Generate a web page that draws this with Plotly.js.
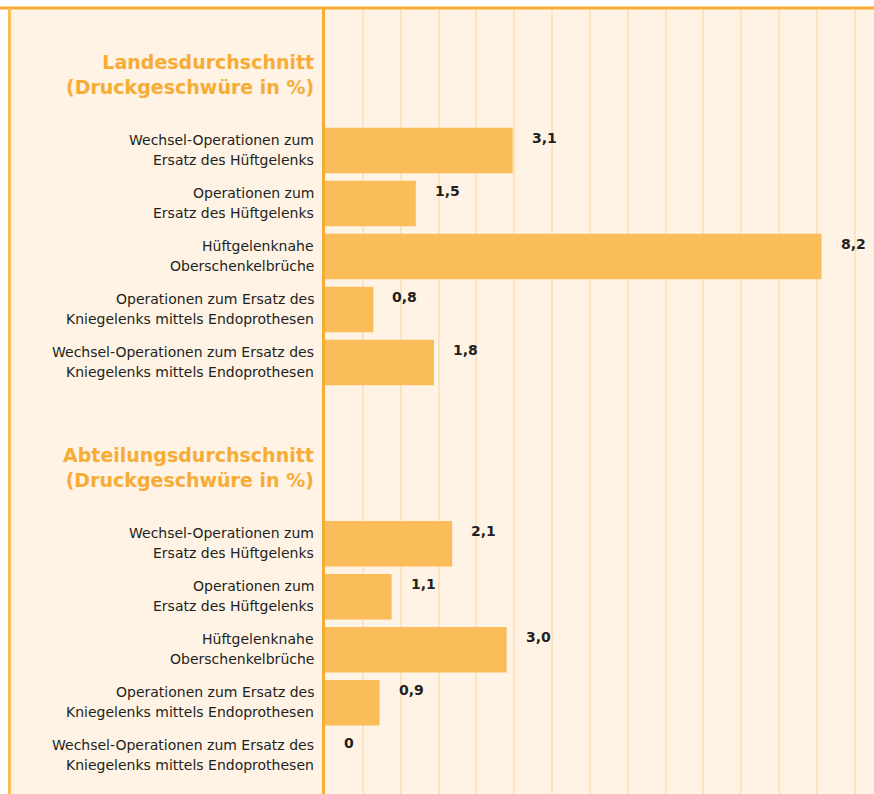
<!DOCTYPE html>
<html>
<head>
<meta charset="utf-8">
<script src="https://cdn.plot.ly/plotly-3.0.1.min.js"></script>
<style>html,body{margin:0;padding:0;background:#fff;}#chart{width:874px;height:794px;}</style>
</head>
<body>
<div id="chart"></div>
<script>
// ---- data ----
const categories = [
  "Wechsel-Operationen zum<br>Ersatz des Hüftgelenks",
  "Operationen zum<br>Ersatz des Hüftgelenks",
  "Hüftgelenknahe<br>Oberschenkelbrüche",
  "Operationen zum Ersatz des<br>Kniegelenks mittels Endoprothesen",
  "Wechsel-Operationen zum Ersatz des<br>Kniegelenks mittels Endoprothesen"
];
const groupTitles = [
  "Landesdurchschnitt<br>(Druckgeschwüre in %)",
  "Abteilungsdurchschnitt<br>(Druckgeschwüre in %)"
];
const landesValues = [3.1, 1.5, 8.2, 0.8, 1.8];
const abteilungValues = [2.1, 1.1, 3.0, 0.9, 0];

// ---- layout helpers ----
const groupOffset = [0, 7.42];
const W = 874, H = 794, L = 325, T = 9;
const plotW = W - L, plotH = H - T;
const cream = "#FEF3E5", orange = "#F7AC35", barColor = "#FBBD59", textColor = "#231F20";
const fmt = v => v === 0 ? "0" : v.toFixed(1).replace(".", ",");
const font = "DejaVu Sans";

const groups = [landesValues, abteilungValues];
const traces = [];
const annotations = [];
groups.forEach((vals, g) => {
  const ys = vals.map((_, i) => i + groupOffset[g]);
  traces.push({
    type: "bar", orientation: "h",
    x: vals, y: ys, width: 0.86,
    marker: {color: barColor, line: {width: 0}},
    hoverinfo: "skip", showlegend: false
  });
  ys.forEach((y, i) => {
    const lines = categories[i].split("<br>");
    const shifts = [11, -9];
    lines.forEach((ln, k) => {
      annotations.push({
        x: 0, y: y, xref: "x", yref: "y", text: ln, showarrow: false,
        xanchor: "right", yanchor: "middle", xshift: -9, yshift: shifts[k],
        font: {family: font, size: 14, color: textColor}
      });
    });
    annotations.push({
      x: vals[i], y: y, xref: "x", yref: "y", text: "<b>" + fmt(vals[i]) + "</b>",
      showarrow: false, xanchor: "left", yanchor: "middle", xshift: 17, yshift: 13,
      font: {family: font, size: 14, color: textColor}
    });
  });
  annotations.push({
    x: 0, y: groupOffset[g] - 1.435, xref: "x", yref: "y",
    text: "<b>" + groupTitles[g] + "</b>", showarrow: false,
    xanchor: "right", yanchor: "middle", align: "right", xshift: -9,
    font: {family: font, size: 19, color: orange}
  });
});

const px2paperX = p => (p - L) / plotW;
const px2paperY = p => 1 - (p - T) / plotH;

const layout = {
  width: W, height: H,
  margin: {l: L, r: 0, t: T, b: 0, pad: 0},
  paper_bgcolor: cream, plot_bgcolor: cream,
  barmode: "overlay",
  xaxis: {
    range: [0, plotW / 60.55], dtick: 0.625, tick0: 0,
    showgrid: true, gridcolor: "#FCE4C2", gridwidth: 2,
    zeroline: false, showticklabels: false, ticks: "", fixedrange: true
  },
  yaxis: {
    range: [(H - 150.5) / 53, (T - 150.5) / 53],
    showticklabels: false, showgrid: false, zeroline: false,
    showline: true, linecolor: orange, linewidth: 3,
    ticks: "", fixedrange: true
  },
  annotations: annotations,
  shapes: [
    {type: "rect", xref: "paper", yref: "paper", x0: px2paperX(0), x1: px2paperX(W), y0: px2paperY(0), y1: px2paperY(7), fillcolor: "#ffffff", line: {width: 0}, layer: "above"},
    {type: "rect", xref: "paper", yref: "paper", x0: px2paperX(0), x1: px2paperX(8), y0: px2paperY(0), y1: px2paperY(H), fillcolor: "#ffffff", line: {width: 0}, layer: "above"},
    {type: "line", xref: "paper", yref: "paper", x0: px2paperX(0), x1: px2paperX(W), y0: px2paperY(8), y1: px2paperY(8), line: {color: orange, width: 3}, layer: "above"},
    {type: "line", xref: "paper", yref: "paper", x0: px2paperX(9.5), x1: px2paperX(9.5), y0: px2paperY(8), y1: px2paperY(H), line: {color: "#FBBD59", width: 3}, layer: "above"}
  ]
};

Plotly.newPlot("chart", traces, layout, {displayModeBar: false, staticPlot: true});
</script>
</body>
</html>
